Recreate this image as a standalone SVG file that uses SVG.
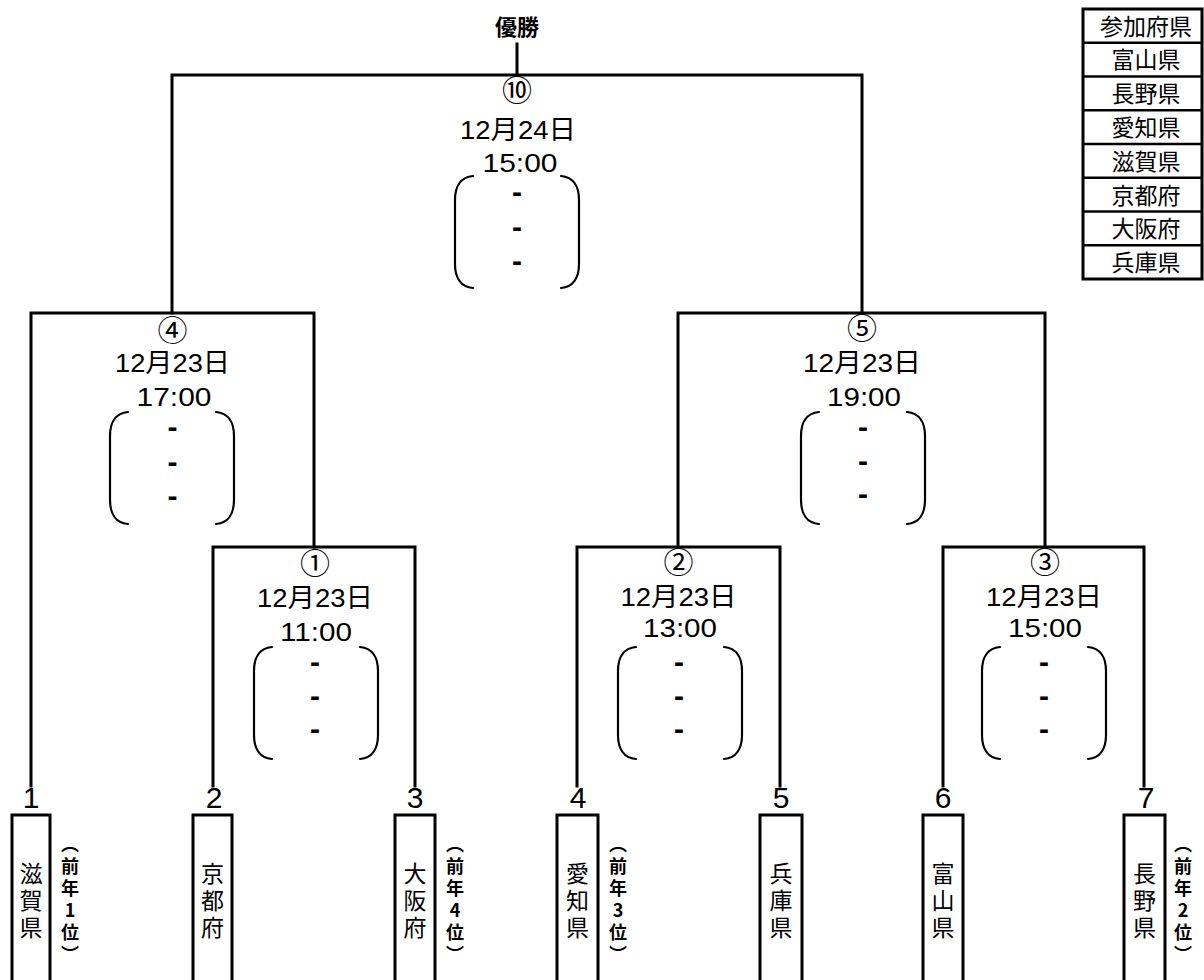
<svg xmlns="http://www.w3.org/2000/svg" xmlns:xlink="http://www.w3.org/1999/xlink" width="1204" height="980" viewBox="0 0 1204 980">
<style>
.ln{fill:none;stroke:#000;stroke-width:3;stroke-linecap:square}
.box{fill:#fff;stroke:#000;stroke-width:3}
.par{fill:none;stroke:#000;stroke-width:2.2;stroke-linecap:round}
.jp{font-family:"Noto Sans CJK JP","Noto Sans CJK SC",sans-serif;fill:#000}
.num{font-family:"Liberation Sans","Noto Sans CJK JP",sans-serif;fill:#000}
.circ{font-family:"Noto Sans CJK JP",sans-serif;font-size:30px;text-anchor:middle;fill:#000}
.date{font-size:26px;text-anchor:middle}
.time{font-size:26px;text-anchor:middle}
.dash{font-family:"Liberation Sans",sans-serif;font-size:30px;font-weight:bold;text-anchor:middle;fill:#000}
.seed{font-size:30px;text-anchor:middle}
.vname{font-size:23px;text-anchor:middle;writing-mode:vertical-rl;text-orientation:upright;letter-spacing:4px}
.vnote{font-size:18px;text-anchor:middle;writing-mode:vertical-rl;text-orientation:upright;letter-spacing:4px;font-weight:bold}
.leg{font-size:23px;text-anchor:middle}
</style>
<defs>
<g id="parens">
<path class="par" d="M -44,0 C -56,1 -62,10 -62,24 V 88 C -62,102 -56,111 -44,112"/>
<path class="par" d="M 44,0 C 56,1 62,10 62,24 V 88 C 62,102 56,111 44,112"/>
</g>
</defs>
<rect width="1204" height="980" fill="#fff"/>

<g id="connectors">
<path class="ln" d="M517 44 V75"/>
<path class="ln" d="M172 313 V75 H862 V313"/>
<path class="ln" d="M31 786 V313 H314 V547"/>
<path class="ln" d="M678 547 V313 H1045 V547"/>
<path class="ln" d="M213 786 V547 H415 V786"/>
<path class="ln" d="M577 786 V547 H780 V786"/>
<path class="ln" d="M943 786 V547 H1144 V786"/>
</g>

<g id="champion">
<text class="jp" x="517" y="35" font-size="22" font-weight="bold" text-anchor="middle">優勝</text>
</g>

<g id="match10">
<text class="circ" x="517" y="101">⑩</text>
<text class="num date" x="518" y="139" textLength="116" lengthAdjust="spacingAndGlyphs">12月24日</text>
<text class="num time" x="520" y="172" textLength="75" lengthAdjust="spacingAndGlyphs">15:00</text>
<use xlink:href="#parens" href="#parens" x="517" y="176"/>
<text class="dash" x="517" y="202">-</text>
<text class="dash" x="517" y="237">-</text>
<text class="dash" x="517" y="271">-</text>
</g>

<g id="match4">
<text class="circ" x="172.5" y="341">④</text>
<text class="num date" x="172.5" y="372" textLength="115" lengthAdjust="spacingAndGlyphs">12月23日</text>
<text class="num time" x="174" y="406" textLength="75" lengthAdjust="spacingAndGlyphs">17:00</text>
<use xlink:href="#parens" href="#parens" x="172" y="412"/>
<text class="dash" x="172.5" y="437">-</text>
<text class="dash" x="172.5" y="472">-</text>
<text class="dash" x="172.5" y="506">-</text>
</g>

<g id="match5">
<text class="circ" x="862" y="339">⑤</text>
<text class="num date" x="862" y="372" textLength="118" lengthAdjust="spacingAndGlyphs">12月23日</text>
<text class="num time" x="864" y="406" textLength="74" lengthAdjust="spacingAndGlyphs">19:00</text>
<use xlink:href="#parens" href="#parens" x="863" y="412"/>
<text class="dash" x="863" y="437">-</text>
<text class="dash" x="863" y="471">-</text>
<text class="dash" x="863" y="504">-</text>
</g>

<g id="match1">
<text class="circ" x="315" y="574">①</text>
<text class="num date" x="315" y="607" textLength="116" lengthAdjust="spacingAndGlyphs">12月23日</text>
<text class="num time" x="316" y="641" textLength="72" lengthAdjust="spacingAndGlyphs">11:00</text>
<use xlink:href="#parens" href="#parens" x="316" y="647"/>
<text class="dash" x="315" y="672">-</text>
<text class="dash" x="315" y="706">-</text>
<text class="dash" x="315" y="739">-</text>
</g>

<g id="match2">
<text class="circ" x="678.5" y="573">②</text>
<text class="num date" x="678.5" y="606" textLength="116" lengthAdjust="spacingAndGlyphs">12月23日</text>
<text class="num time" x="680" y="637" textLength="74" lengthAdjust="spacingAndGlyphs">13:00</text>
<use xlink:href="#parens" href="#parens" x="680" y="647"/>
<text class="dash" x="679" y="672">-</text>
<text class="dash" x="679" y="706">-</text>
<text class="dash" x="679" y="739">-</text>
</g>

<g id="match3">
<text class="circ" x="1045" y="573">③</text>
<text class="num date" x="1044" y="606" textLength="116" lengthAdjust="spacingAndGlyphs">12月23日</text>
<text class="num time" x="1045" y="637" textLength="74" lengthAdjust="spacingAndGlyphs">15:00</text>
<use xlink:href="#parens" href="#parens" x="1044" y="647"/>
<text class="dash" x="1044" y="672">-</text>
<text class="dash" x="1044" y="706">-</text>
<text class="dash" x="1044" y="739">-</text>
</g>

<g id="team1">
<text class="num seed" x="31" y="808">1</text>
<rect class="box" x="12" y="815" width="38" height="180"/>
<text class="jp vname" x="31" y="902">滋賀県</text>
<text class="jp vnote" x="70" y="901">（前年1位）</text>
</g>
<g id="team2">
<text class="num seed" x="214" y="808">2</text>
<rect class="box" x="193" y="815" width="39" height="180"/>
<text class="jp vname" x="212.5" y="902">京都府</text>
</g>
<g id="team3">
<text class="num seed" x="415" y="808">3</text>
<rect class="box" x="395" y="815" width="40" height="180"/>
<text class="jp vname" x="415" y="902">大阪府</text>
<text class="jp vnote" x="455" y="901">（前年4位）</text>
</g>
<g id="team4">
<text class="num seed" x="578" y="808">4</text>
<rect class="box" x="557" y="815" width="41" height="180"/>
<text class="jp vname" x="577.5" y="902">愛知県</text>
<text class="jp vnote" x="618" y="901">（前年3位）</text>
</g>
<g id="team5">
<text class="num seed" x="781" y="808">5</text>
<rect class="box" x="760" y="815" width="42" height="180"/>
<text class="jp vname" x="781" y="902">兵庫県</text>
</g>
<g id="team6">
<text class="num seed" x="943" y="808">6</text>
<rect class="box" x="923" y="815" width="40" height="180"/>
<text class="jp vname" x="943" y="902">富山県</text>
</g>
<g id="team7">
<text class="num seed" x="1146" y="808">7</text>
<rect class="box" x="1124" y="815" width="41" height="180"/>
<text class="jp vname" x="1144.5" y="902">長野県</text>
<text class="jp vnote" x="1183" y="901">（前年2位）</text>
</g>

<g id="legend">
<rect x="1083" y="9" width="119" height="270" fill="#fff" stroke="#000" stroke-width="3"/>
<path d="M1083 42.75H1202M1083 76.5H1202M1083 110.25H1202M1083 144H1202M1083 177.75H1202M1083 211.5H1202M1083 245.25H1202" stroke="#000" stroke-width="2.5"/>
<text class="jp leg" x="1146" y="34.5">参加府県</text>
<text class="jp leg" x="1146" y="68">富山県</text>
<text class="jp leg" x="1146" y="102">長野県</text>
<text class="jp leg" x="1146" y="136">愛知県</text>
<text class="jp leg" x="1146" y="169.5">滋賀県</text>
<text class="jp leg" x="1146" y="203.5">京都府</text>
<text class="jp leg" x="1146" y="237">大阪府</text>
<text class="jp leg" x="1146" y="271">兵庫県</text>
</g>
</svg>
